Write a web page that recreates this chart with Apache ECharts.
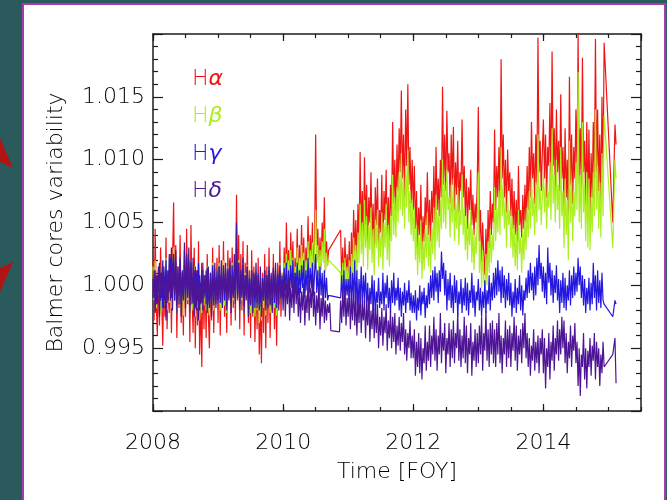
<!DOCTYPE html>
<html>
<head>
<meta charset="utf-8">
<title>Balmer cores variability</title>
<script src="https://cdn.jsdelivr.net/npm/echarts@6/dist/echarts.min.js"></script>
<style>
  html, body { margin: 0; padding: 0; background: #2b5a5c; }
  #chart { width: 667px; height: 500px; }
</style>
</head>
<body>
<div id="chart"></div>
<script>
// Normalised Balmer line-core indices, one sample every 1/60 year from 2008.0,
// one row per quarter. null marks days without data (drawn straight across).
const firstYear = 2008;
const samplesPerYear = 60;

const hAlpha = [
  // 2008
  1.0020, 0.9972, 1.0045, 0.9985, 0.9960, 1.0012, 0.9968, 1.0030, 0.9990, 0.9952, 1.0008, 0.9975, 1.0038, 0.9965, 1.0005,
  0.9978, 1.0025, 0.9962, 1.0018, 1.0066, 0.9988, 1.0032, 0.9958, 1.0015, 0.9982, 1.0040, 0.9970, 1.0010, 0.9960, 1.0028,
  0.9975, 1.0045, 0.9985, 1.0020, 0.9955, 1.0048, 0.9990, 0.9962, 1.0030, 0.9950, 1.0012, 0.9968, 1.0035, 0.9945, 0.9990,
  0.9935, 1.0018, 0.9965, 1.0008, 0.9958, 1.0025, 0.9978, 0.9950, 1.0010, 0.9972, 1.0030, 0.9962, 1.0005, 0.9985, 1.0022,
  // 2009
  0.9970, 1.0032, 0.9960, 1.0008, 0.9985, 1.0035, 0.9975, 1.0012, 0.9962, 1.0028, 0.9990, 1.0020, 0.9968, 1.0030, 0.9982,
  1.0010, 0.9972, 1.0072, 0.9988, 1.0040, 0.9965, 1.0025, 0.9980, 1.0035, 0.9960, 1.0018, 0.9992, 1.0032, 0.9970, 1.0012,
  0.9958, 1.0028, 0.9975, 1.0015, 0.9955, 1.0005, 0.9965, 1.0022, 0.9945, 0.9988, 0.9938, 1.0010, 0.9962, 1.0025, 0.9950,
  1.0015, 0.9970, 1.0030, 0.9958, 1.0008, 0.9980, 1.0025, 0.9965, 1.0012, 0.9952, 1.0018, 0.9985, 1.0035, 0.9975, 1.0010,
  // 2010
  0.9990, 1.0030, 0.9995, 1.0050, 1.0005, 1.0028, 0.9988, 1.0042, 1.0010, 1.0035, 0.9992, 1.0022, 1.0005, 1.0045, 0.9998,
  1.0032, 1.0008, 1.0048, 1.0012, 1.0038, 0.9995, 1.0030, 1.0015, 1.0055, 1.0005, 1.0040, 1.0018, 1.0050, 1.0002, 1.0035,
  1.0120, 1.0020, 1.0045, 1.0008, 1.0038, 1.0015, 1.0050, 1.0025, 1.0070, 1.0012, 1.0035, 1.0018, 1.0028, null, null,
  null, null, null, null, null, null, null, null, 1.0044, 1.0005, 1.0030, 0.9995, 1.0038, 1.0008, 1.0025,
  // 2011
  1.0002, 1.0035, 0.9998, 1.0042, 1.0010, 1.0060, 1.0025, 1.0052, 1.0018, 1.0065, 1.0030, 1.0106, 1.0040, 1.0075, 1.0028,
  1.0102, 1.0045, 1.0080, 1.0030, 1.0070, 1.0050, 1.0090, 1.0035, 1.0065, 1.0025, 1.0078, 1.0048, 1.0085, 1.0032, 1.0060,
  1.0042, 1.0088, 1.0030, 1.0075, 1.0052, 1.0092, 1.0040, 1.0070, 1.0035, 1.0080, 1.0055, 1.0130, 1.0065, 1.0100, 1.0058,
  1.0112, 1.0075, 1.0125, 1.0090, 1.0155, 1.0085, 1.0120, 1.0070, 1.0140, 1.0095, 1.0160, 1.0080, 1.0110, 1.0065, 1.0100,
  // 2012
  1.0060, 1.0095, 1.0045, 1.0075, 1.0030, 1.0062, 1.0040, 1.0080, 1.0028, 1.0055, 1.0035, 1.0070, 1.0048, 1.0090, 1.0040,
  1.0068, 1.0035, 1.0075, 1.0050, 1.0095, 1.0045, 1.0110, 1.0060, 1.0085, 1.0055, 1.0100, 1.0070, 1.0158, 1.0080, 1.0120,
  1.0075, 1.0139, 1.0090, 1.0105, 1.0065, 1.0120, 1.0080, 1.0126, 1.0060, 1.0098, 1.0072, 1.0115, 1.0058, 1.0090, 1.0075,
  1.0132, 1.0070, 1.0095, 1.0055, 1.0085, 1.0045, 1.0078, 1.0060, 1.0092, 1.0048, 1.0072, 1.0040, 1.0065, 1.0050, 1.0082,
  // 2013
  1.0142, 1.0035, 1.0060, 1.0018, 1.0050, 1.0025, 1.0008, 1.0045, 1.0015, 1.0060, 1.0030, 1.0075, 1.0040, 1.0065, 1.0050,
  1.0124, 1.0060, 1.0095, 1.0070, 1.0110, 1.0065, 1.0180, 1.0085, 1.0120, 1.0070, 1.0100, 1.0058, 1.0108, 1.0075, 1.0090,
  1.0055, 1.0085, 1.0045, 1.0075, 1.0040, 1.0068, 1.0035, 1.0095, 1.0048, 1.0060, 1.0038, 1.0072, 1.0045, 1.0080, 1.0050,
  1.0095, 1.0060, 1.0110, 1.0070, 1.0130, 1.0085, 1.0105, 1.0065, 1.0120, 1.0080, 1.0197, 1.0090, 1.0115, 1.0075, 1.0105,
  // 2014
  1.0132, 1.0085, 1.0120, 1.0070, 1.0110, 1.0095, 1.0145, 1.0080, 1.0186, 1.0095, 1.0125, 1.0075, 1.0140, 1.0090, 1.0115,
  1.0075, 1.0152, 1.0085, 1.0110, 1.0060, 1.0125, 1.0070, 1.0100, 1.0045, 1.0166, 1.0080, 1.0120, 1.0065, 1.0110, 1.0085,
  1.0140, 1.0090, 1.0200, 1.0080, 1.0125, 1.0075, 1.0181, 1.0090, 1.0115, 1.0065, 1.0130, 1.0060, 1.0124, 1.0055, 1.0105,
  1.0070, 1.0130, 1.0085, 1.0196, 1.0090, 1.0140, 1.0075, 1.0120, 1.0065, 1.0150, 1.0085, 1.0193, null, null, null,
  // 2015
  null, null, null, null, 1.0050, null, 1.0128, 1.0112
];

const hBeta = [
  // 2008
  1.0015, 0.9988, 1.0020, 0.9982, 1.0008, 0.9992, 1.0018, 0.9978, 1.0005, 0.9990, 1.0012, 0.9984, 1.0022, 0.9980, 1.0010,
  0.9986, 1.0018, 0.9982, 1.0012, 1.0030, 0.9990, 1.0015, 0.9978, 1.0008, 0.9985, 1.0020, 0.9980, 1.0010, 0.9976, 1.0014,
  0.9984, 1.0022, 0.9988, 1.0012, 0.9978, 1.0020, 0.9990, 0.9980, 1.0015, 0.9975, 1.0008, 0.9982, 1.0018, 0.9972, 0.9995,
  0.9978, 1.0010, 0.9984, 1.0006, 0.9980, 1.0015, 0.9988, 0.9976, 1.0008, 0.9985, 1.0018, 0.9980, 1.0005, 0.9990, 1.0012,
  // 2009
  0.9985, 1.0018, 0.9980, 1.0006, 0.9990, 1.0020, 0.9984, 1.0010, 0.9978, 1.0015, 0.9992, 1.0012, 0.9982, 1.0018, 0.9988,
  1.0008, 0.9985, 1.0035, 0.9992, 1.0020, 0.9980, 1.0012, 0.9988, 1.0018, 0.9978, 1.0010, 0.9994, 1.0016, 0.9982, 1.0006,
  0.9978, 1.0012, 0.9985, 1.0008, 0.9975, 1.0004, 0.9980, 1.0010, 0.9970, 0.9995, 0.9972, 1.0006, 0.9982, 1.0012, 0.9976,
  1.0008, 0.9985, 1.0014, 0.9978, 1.0005, 0.9990, 1.0012, 0.9982, 1.0008, 0.9976, 1.0010, 0.9990, 1.0018, 0.9988, 1.0010,
  // 2010
  0.9995, 1.0018, 1.0000, 1.0025, 1.0005, 1.0020, 0.9996, 1.0028, 1.0008, 1.0022, 0.9998, 1.0015, 1.0006, 1.0030, 1.0002,
  1.0022, 1.0008, 1.0032, 1.0012, 1.0026, 0.9998, 1.0020, 1.0010, 1.0035, 1.0005, 1.0028, 1.0014, 1.0034, 1.0004, 1.0024,
  1.0060, 1.0018, 1.0032, 1.0008, 1.0028, 1.0012, 1.0035, 1.0018, 1.0045, 1.0010, 1.0026, 1.0015, 1.0020, null, null,
  null, null, null, null, null, null, null, null, 1.0010, 0.9998, 1.0018, 0.9995, 1.0022, 1.0002, 1.0015,
  // 2011
  0.9998, 1.0020, 0.9995, 1.0025, 1.0004, 1.0038, 1.0015, 1.0032, 1.0008, 1.0042, 1.0018, 1.0065, 1.0025, 1.0050, 1.0015,
  1.0068, 1.0030, 1.0055, 1.0012, 1.0048, 1.0028, 1.0062, 1.0018, 1.0045, 1.0008, 1.0052, 1.0030, 1.0060, 1.0015, 1.0040,
  1.0022, 1.0058, 1.0012, 1.0050, 1.0030, 1.0065, 1.0020, 1.0048, 1.0015, 1.0055, 1.0035, 1.0088, 1.0040, 1.0070, 1.0038,
  1.0078, 1.0050, 1.0090, 1.0060, 1.0105, 1.0055, 1.0085, 1.0045, 1.0095, 1.0062, 1.0108, 1.0050, 1.0075, 1.0040, 1.0068,
  // 2012
  1.0035, 1.0062, 1.0020, 1.0048, 1.0008, 1.0040, 1.0018, 1.0052, 1.0005, 1.0035, 1.0012, 1.0045, 1.0022, 1.0058, 1.0015,
  1.0042, 1.0010, 1.0048, 1.0025, 1.0062, 1.0020, 1.0072, 1.0035, 1.0058, 1.0030, 1.0068, 1.0045, 1.0100, 1.0050, 1.0082,
  1.0045, 1.0092, 1.0060, 1.0070, 1.0038, 1.0080, 1.0050, 1.0085, 1.0035, 1.0065, 1.0045, 1.0078, 1.0032, 1.0060, 1.0048,
  1.0088, 1.0040, 1.0062, 1.0028, 1.0055, 1.0020, 1.0050, 1.0032, 1.0060, 1.0018, 1.0045, 1.0012, 1.0040, 1.0025, 1.0052,
  // 2013
  1.0090, 1.0010, 1.0035, 0.9998, 1.0028, 1.0005, 0.9995, 1.0025, 1.0000, 1.0035, 1.0010, 1.0045, 1.0018, 1.0040, 1.0028,
  1.0078, 1.0035, 1.0062, 1.0042, 1.0075, 1.0040, 1.0110, 1.0055, 1.0080, 1.0045, 1.0068, 1.0030, 1.0070, 1.0048, 1.0060,
  1.0030, 1.0055, 1.0022, 1.0048, 1.0015, 1.0042, 1.0012, 1.0060, 1.0025, 1.0038, 1.0010, 1.0045, 1.0020, 1.0052, 1.0028,
  1.0062, 1.0038, 1.0075, 1.0045, 1.0088, 1.0055, 1.0070, 1.0040, 1.0082, 1.0050, 1.0120, 1.0060, 1.0078, 1.0048, 1.0070,
  // 2014
  1.0090, 1.0058, 1.0082, 1.0045, 1.0075, 1.0062, 1.0098, 1.0052, 1.0125, 1.0065, 1.0088, 1.0050, 1.0100, 1.0060, 1.0080,
  1.0045, 1.0110, 1.0055, 1.0075, 1.0030, 1.0085, 1.0040, 1.0068, 1.0020, 1.0115, 1.0050, 1.0082, 1.0035, 1.0075, 1.0055,
  1.0098, 1.0060, 1.0170, 1.0050, 1.0088, 1.0045, 1.0130, 1.0058, 1.0080, 1.0035, 1.0090, 1.0030, 1.0085, 1.0028, 1.0070,
  1.0042, 1.0090, 1.0055, 1.0140, 1.0060, 1.0095, 1.0045, 1.0082, 1.0038, 1.0105, 1.0055, 1.0135, null, null, null,
  // 2015
  null, null, null, null, 1.0030, null, 1.0100, 1.0085
];

const hGamma = [
  // 2008
  1.0005, 0.9990, 1.0012, 0.9985, 1.0008, 0.9995, 1.0018, 0.9988, 1.0010, 0.9982, 1.0015, 0.9992, 1.0020, 0.9986, 1.0012,
  0.9995, 1.0022, 0.9990, 1.0015, 1.0025, 0.9988, 1.0018, 0.9984, 1.0010, 0.9992, 1.0020, 0.9985, 1.0012, 0.9990, 1.0016,
  0.9988, 1.0022, 0.9992, 1.0015, 0.9984, 1.0020, 0.9995, 0.9986, 1.0012, 0.9982, 1.0010, 0.9988, 1.0018, 0.9980, 1.0002,
  0.9986, 1.0012, 0.9990, 1.0008, 0.9985, 1.0014, 0.9992, 0.9982, 1.0010, 0.9988, 1.0016, 0.9984, 1.0006, 0.9994, 1.0012,
  // 2009
  0.9988, 1.0015, 0.9986, 1.0008, 0.9992, 1.0016, 0.9988, 1.0010, 0.9984, 1.0014, 0.9994, 1.0012, 0.9986, 1.0016, 0.9990,
  1.0008, 0.9988, 1.0030, 0.9994, 1.0018, 0.9985, 1.0012, 0.9990, 1.0016, 0.9984, 1.0008, 0.9995, 1.0015, 0.9986, 1.0006,
  0.9984, 1.0012, 0.9990, 1.0008, 0.9982, 1.0004, 0.9986, 1.0010, 0.9980, 0.9998, 0.9982, 1.0006, 0.9988, 1.0012, 0.9984,
  1.0008, 0.9990, 1.0012, 0.9984, 1.0005, 0.9992, 1.0014, 0.9986, 1.0008, 0.9982, 1.0010, 0.9994, 1.0016, 0.9990, 1.0008,
  // 2010
  0.9994, 1.0014, 0.9996, 1.0018, 0.9990, 1.0012, 0.9994, 1.0016, 0.9998, 1.0020, 0.9992, 1.0010, 0.9996, 1.0018, 0.9992,
  1.0012, 0.9994, 1.0016, 0.9998, 1.0020, 0.9990, 1.0012, 0.9996, 1.0022, 0.9994, 1.0014, 0.9998, 1.0018, 0.9992, 1.0010,
  1.0025, 0.9994, 1.0012, 0.9988, 1.0015, 0.9992, 1.0010, 0.9986, 1.0012, 0.9990, 1.0006, 0.9988, 0.9992, null, null,
  null, null, null, null, null, null, null, null, 0.9990, 1.0008, 0.9985, 1.0012, 0.9988, 1.0005, 0.9992,
  // 2011
  1.0005, 0.9988, 1.0015, 0.9982, 1.0010, 0.9990, 1.0020, 0.9984, 1.0012, 0.9978, 1.0005, 0.9988, 1.0015, 0.9982, 1.0008,
  0.9990, 1.0010, 0.9982, 1.0002, 0.9976, 0.9998, 0.9985, 1.0008, 0.9980, 1.0004, 0.9975, 0.9995, 0.9986, 1.0006, 0.9982,
  0.9995, 0.9985, 1.0010, 0.9980, 1.0002, 0.9990, 1.0008, 0.9982, 0.9998, 0.9978, 1.0004, 0.9986, 1.0010, 0.9984, 0.9998,
  0.9988, 1.0006, 0.9980, 0.9998, 0.9975, 0.9995, 0.9984, 1.0002, 0.9978, 0.9996, 0.9986, 1.0004, 0.9980, 0.9994, 0.9978,
  // 2012
  0.9992, 0.9978, 0.9996, 0.9972, 0.9990, 0.9980, 1.0000, 0.9976, 0.9995, 0.9985, 0.9998, 0.9974, 0.9992, 0.9982, 1.0002,
  0.9985, 1.0008, 0.9990, 1.0012, 0.9988, 1.0015, 0.9995, 1.0010, 0.9986, 1.0012, 0.9995, 1.0027, 1.0005, 1.0018, 0.9992,
  1.0012, 0.9980, 1.0005, 0.9988, 1.0010, 0.9982, 1.0000, 0.9978, 1.0008, 0.9986, 1.0004, 0.9975, 0.9995, 0.9985, 1.0005,
  0.9978, 0.9998, 0.9984, 1.0006, 0.9980, 1.0002, 0.9976, 0.9996, 0.9986, 1.0010, 0.9982, 1.0000, 0.9975, 0.9995, 0.9988,
  // 2013
  1.0005, 0.9980, 0.9998, 0.9975, 0.9995, 0.9982, 1.0004, 0.9978, 0.9996, 0.9985, 1.0008, 0.9980, 1.0002, 0.9988, 1.0010,
  0.9990, 1.0014, 0.9992, 1.0020, 0.9995, 1.0012, 0.9986, 1.0015, 0.9990, 1.0008, 0.9982, 1.0005, 0.9988, 1.0010, 0.9984,
  1.0002, 0.9975, 0.9995, 0.9982, 1.0005, 0.9978, 0.9998, 0.9985, 1.0008, 0.9980, 1.0000, 0.9976, 0.9996, 0.9988, 1.0006,
  0.9990, 1.0012, 0.9994, 1.0018, 0.9996, 1.0010, 0.9988, 1.0015, 0.9992, 1.0022, 1.0000, 1.0032, 1.0005, 1.0018, 0.9995,
  // 2014
  1.0015, 0.9990, 1.0010, 0.9985, 1.0030, 1.0002, 1.0018, 0.9992, 1.0012, 0.9986, 1.0008, 0.9994, 1.0016, 0.9988, 1.0005,
  0.9978, 1.0004, 0.9986, 1.0010, 0.9982, 1.0006, 0.9980, 1.0000, 0.9988, 1.0012, 0.9984, 1.0008, 0.9990, 1.0015, 0.9992,
  1.0010, 0.9995, 1.0022, 1.0000, 1.0015, 0.9990, 1.0008, 0.9984, 1.0005, 0.9978, 0.9998, 0.9985, 1.0006, 0.9980, 1.0002,
  0.9985, 1.0018, 0.9990, 1.0008, 0.9980, 1.0012, 0.9986, 1.0004, 0.9982, 1.0010, 0.9988, 0.9985, null, null, null,
  // 2015
  null, null, null, null, 0.9975, null, 0.9988, 0.9985
];

const hDelta = [
  // 2008
  0.9990, 1.0012, 0.9978, 1.0008, 0.9985, 1.0015, 0.9975, 1.0010, 0.9990, 1.0020, 0.9982, 1.0005, 0.9972, 1.0012, 0.9988,
  1.0025, 0.9988, 1.0030, 0.9980, 1.0018, 0.9992, 1.0028, 0.9978, 1.0015, 0.9985, 1.0022, 0.9975, 1.0010, 0.9988, 1.0034,
  0.9982, 1.0025, 0.9990, 1.0030, 0.9978, 1.0018, 0.9985, 1.0022, 0.9975, 1.0015, 0.9980, 1.0012, 0.9972, 1.0008, 0.9985,
  1.0018, 0.9980, 1.0008, 0.9992, 1.0012, 0.9978, 1.0015, 0.9985, 1.0005, 0.9975, 1.0012, 0.9988, 1.0018, 0.9982, 1.0006,
  // 2009
  0.9985, 1.0015, 0.9990, 1.0020, 0.9982, 1.0010, 0.9995, 1.0018, 0.9980, 1.0012, 0.9988, 1.0022, 0.9978, 1.0008, 0.9992,
  1.0025, 0.9985, 1.0050, 0.9990, 1.0018, 0.9980, 1.0012, 0.9992, 1.0022, 0.9978, 1.0008, 0.9988, 1.0015, 0.9975, 1.0005,
  0.9985, 1.0012, 0.9978, 1.0010, 0.9990, 1.0018, 0.9982, 1.0008, 0.9985, 1.0015, 0.9975, 1.0005, 0.9988, 1.0012, 0.9980,
  1.0008, 0.9982, 1.0015, 0.9985, 1.0010, 0.9978, 1.0012, 0.9990, 1.0018, 0.9985, 1.0008, 0.9980, 1.0012, 0.9988, 1.0005,
  // 2010
  0.9980, 1.0010, 0.9975, 1.0002, 0.9985, 1.0008, 0.9972, 0.9998, 0.9982, 1.0005, 0.9978, 1.0010, 0.9985, 1.0002, 0.9975,
  0.9998, 0.9970, 0.9995, 0.9980, 1.0002, 0.9968, 0.9992, 0.9978, 1.0004, 0.9972, 0.9998, 0.9982, 1.0006, 0.9975, 0.9995,
  0.9968, 0.9992, 0.9978, 0.9998, 0.9965, 0.9990, 0.9975, 1.0000, 0.9970, 0.9988, 0.9972, 0.9985, 0.9978, 0.9986, 0.9964,
  null, null, null, null, null, null, null, 0.9963, 0.9988, 0.9970, 0.9995, 0.9975, 0.9998, 0.9968, 0.9990,
  // 2011
  0.9975, 0.9998, 0.9965, 0.9990, 0.9972, 1.0000, 0.9968, 0.9992, 0.9960, 0.9988, 0.9970, 0.9995, 0.9962, 0.9985, 0.9972,
  0.9990, 0.9958, 0.9985, 0.9968, 0.9992, 0.9955, 0.9980, 0.9965, 0.9988, 0.9958, 0.9982, 0.9962, 0.9985, 0.9950, 0.9975,
  0.9960, 0.9982, 0.9952, 0.9975, 0.9962, 0.9985, 0.9948, 0.9972, 0.9958, 0.9980, 0.9950, 0.9975, 0.9955, 0.9978, 0.9945,
  0.9968, 0.9952, 0.9975, 0.9948, 0.9970, 0.9955, 0.9978, 0.9945, 0.9965, 0.9940, 0.9962, 0.9950, 0.9972, 0.9942, 0.9960,
  // 2012
  0.9942, 0.9965, 0.9928, 0.9955, 0.9935, 0.9962, 0.9930, 0.9958, 0.9925, 0.9950, 0.9938, 0.9968, 0.9932, 0.9955, 0.9940,
  0.9968, 0.9935, 0.9960, 0.9945, 0.9975, 0.9940, 0.9965, 0.9932, 0.9960, 0.9945, 0.9978, 0.9938, 0.9962, 0.9948, 0.9970,
  0.9930, 0.9958, 0.9945, 0.9970, 0.9935, 0.9965, 0.9942, 0.9972, 0.9938, 0.9962, 0.9950, 0.9978, 0.9940, 0.9965, 0.9935,
  0.9960, 0.9942, 0.9975, 0.9938, 0.9968, 0.9930, 0.9958, 0.9945, 0.9970, 0.9928, 0.9955, 0.9940, 0.9965, 0.9935, 0.9962,
  // 2013
  0.9938, 0.9968, 0.9945, 0.9975, 0.9932, 0.9962, 0.9948, 0.9980, 0.9940, 0.9965, 0.9935, 0.9970, 0.9945, 0.9972, 0.9938,
  0.9965, 0.9935, 0.9970, 0.9945, 0.9978, 0.9938, 0.9960, 0.9930, 0.9958, 0.9945, 0.9972, 0.9935, 0.9965, 0.9942, 0.9968,
  0.9935, 0.9962, 0.9948, 0.9975, 0.9940, 0.9968, 0.9932, 0.9960, 0.9945, 0.9965, 0.9938, 0.9970, 0.9950, 0.9978, 0.9942,
  0.9962, 0.9935, 0.9958, 0.9928, 0.9952, 0.9940, 0.9965, 0.9932, 0.9955, 0.9938, 0.9960, 0.9930, 0.9958, 0.9945, 0.9965,
  // 2014
  0.9930, 0.9958, 0.9918, 0.9950, 0.9935, 0.9962, 0.9925, 0.9955, 0.9940, 0.9968, 0.9932, 0.9958, 0.9945, 0.9972, 0.9940,
  0.9965, 0.9945, 0.9975, 0.9950, 0.9972, 0.9938, 0.9962, 0.9930, 0.9955, 0.9942, 0.9968, 0.9935, 0.9960, 0.9948, 0.9970,
  0.9938, 0.9955, 0.9920, 0.9950, 0.9912, 0.9945, 0.9935, 0.9962, 0.9925, 0.9950, 0.9918, 0.9948, 0.9935, 0.9958, 0.9928,
  0.9952, 0.9940, 0.9962, 0.9925, 0.9955, 0.9935, 0.9950, 0.9920, 0.9945, 0.9930, 0.9955, 0.9935, null, null, null,
  // 2015
  null, null, null, null, 0.9945, null, 0.9958, 0.9922
];

const seriesNames = ['Hα', 'Hβ', 'Hγ', 'Hδ'];
const seriesColors = ['#f01414', '#aaf01e', '#2418e0', '#4e1496'];
const seriesValues = [hAlpha, hBeta, hGamma, hDelta];

const xRange = [2008, 2015.5];
const yRange = [0.990, 1.020];
const yTickStep = 0.005;
const xTickStep = 2;
const xMinorStep = 0.5;

// time axis in fractional years
const time = hAlpha.map((_, i) => firstYear + i / samplesPerYear);

function toPoints(values) {
  const pts = [];
  values.forEach((v, i) => { if (v !== null) pts.push([time[i], v]); });
  return pts;
}

const FONT = "'DejaVu Sans', sans-serif";
const INK = '#000000';
const LINE = '#1c1c1c';

const baseX = {
  type: 'value',
  min: xRange[0],
  max: xRange[1],
  splitLine: { show: false },
  axisLine: { onZero: false, lineStyle: { color: LINE, width: 1.5 } }
};

const xAxes = [
  Object.assign({}, baseX, {
    position: 'bottom',
    interval: xTickStep,
    axisTick: { inside: true, length: 7, lineStyle: { color: LINE, width: 1.2 } },
    axisLabel: {
      margin: 21, fontSize: 22, fontFamily: FONT, fontWeight: 200, color: INK,
      showMaxLabel: false, formatter: v => String(Math.round(v))
    },
    name: 'Time [FOY]',
    nameLocation: 'middle',
    nameGap: 50,
    nameTextStyle: { fontSize: 22, fontFamily: FONT, fontWeight: 200, color: INK }
  }),
  Object.assign({}, baseX, {
    position: 'bottom',
    interval: xMinorStep,
    axisLine: { show: false },
    axisTick: { inside: true, length: 4, lineStyle: { color: LINE, width: 1.2 } },
    axisLabel: { show: false }
  }),
  Object.assign({}, baseX, {
    position: 'top',
    interval: xTickStep,
    axisTick: { inside: true, length: 7, lineStyle: { color: LINE, width: 1.2 } },
    axisLabel: { show: false }
  }),
  Object.assign({}, baseX, {
    position: 'top',
    interval: xMinorStep,
    axisLine: { show: false },
    axisTick: { inside: true, length: 4, lineStyle: { color: LINE, width: 1.2 } },
    axisLabel: { show: false }
  })
];

const baseY = {
  type: 'value',
  min: yRange[0],
  max: yRange[1],
  interval: yTickStep,
  splitLine: { show: false },
  axisLine: { show: true, onZero: false, lineStyle: { color: LINE, width: 1.5 } },
  axisTick: { inside: true, length: 10, lineStyle: { color: LINE, width: 1.2 } },
  minorTick: { show: true, splitNumber: 5, length: 5, lineStyle: { color: LINE, width: 1.2 } }
};

const yAxes = [
  Object.assign({}, baseY, {
    position: 'left',
    axisLabel: {
      margin: 8, fontSize: 22, fontFamily: FONT, fontWeight: 200, color: INK,
      showMinLabel: false, showMaxLabel: false,
      formatter: v => v.toFixed(3)
    },
    name: 'Balmer cores variability',
    nameLocation: 'middle',
    nameRotate: 90,
    nameGap: 86,
    nameTextStyle: { fontSize: 22, fontFamily: FONT, fontWeight: 200, color: INK }
  }),
  Object.assign({}, baseY, {
    position: 'right',
    axisLabel: { show: false }
  })
];

const series = seriesNames.map((name, k) => ({
  name: name,
  type: 'line',
  xAxisIndex: 0,
  yAxisIndex: 0,
  data: toPoints(seriesValues[k]),
  showSymbol: false,
  symbol: 'none',
  connectNulls: true,
  clip: true,
  lineStyle: { color: seriesColors[k], width: 1.2 },
  itemStyle: { color: seriesColors[k] },
  z: 2 + k
}));

const chart = echarts.init(document.getElementById('chart'), null, { renderer: 'canvas' });

chart.setOption({
  animation: false,
  backgroundColor: '#2b5a5c',
  grid: { left: 153, right: 26, top: 34, bottom: 89 },
  graphic: [
    {
      type: 'rect', z: -100, silent: true,
      shape: { x: 23, y: 4, width: 642, height: 520 },
      style: { fill: '#ffffff', stroke: '#a43cb0', lineWidth: 2 }
    },
    {
      type: 'polygon', z: -100, silent: true,
      shape: { points: [[0, 138], [13, 168], [0, 162]] },
      style: { fill: '#b01414' }
    },
    {
      type: 'polygon', z: -100, silent: true,
      shape: { points: [[0, 268], [13, 262], [0, 292]] },
      style: { fill: '#b01414' }
    }
  ],
  legend: {
    orient: 'vertical',
    left: 182,
    top: 61,
    itemWidth: 0,
    itemHeight: 26,
    itemGap: 11.5,
    icon: 'rect',
    selectedMode: false,
    itemStyle: { opacity: 0 },
    lineStyle: { opacity: 0 },
    data: seriesNames.map((n, k) => ({ name: n, textStyle: { color: seriesColors[k] } })),
    formatter: n => '{h|H}{g|' + n.slice(1) + '}',
    textStyle: {
      fontSize: 22, fontFamily: FONT, fontWeight: 200, lineHeight: 26,
      rich: {
        h: { fontSize: 22, fontFamily: FONT, fontWeight: 200, lineHeight: 26 },
        g: { fontSize: 22, fontFamily: FONT, fontStyle: 'italic', lineHeight: 26 }
      }
    }
  },
  xAxis: xAxes,
  yAxis: yAxes,
  series: series
});
</script>
</body>
</html>
